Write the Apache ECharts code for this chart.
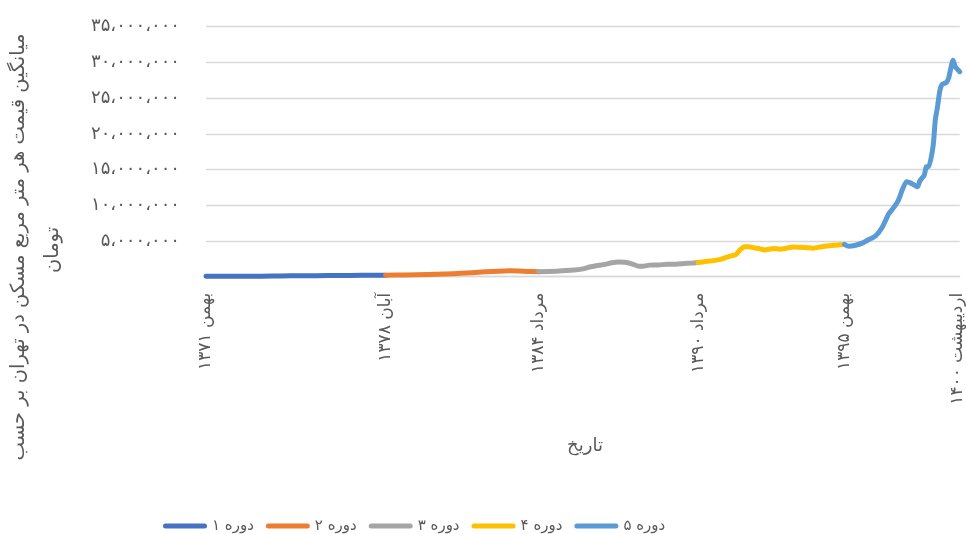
<!DOCTYPE html>
<html>
<head>
<meta charset="utf-8">
<script src="https://cdn.jsdelivr.net/npm/echarts@6/dist/echarts.min.js"></script>
<style>
html,body{margin:0;padding:0;background:#fff;}
#c{width:966px;height:534px;}
</style>
</head>
<body>
<div id="c"></div>
<script>
// X positions are month indices counted from بهمن ۱۳۷۱ (index 0)
const tickMonths = [0, 81, 150, 222, 288, 339];
const tickLabels = ['بهمن ۱۳۷۱', 'آبان ۱۳۷۸', 'مرداد ۱۳۸۴', 'مرداد ۱۳۹۰', 'بهمن ۱۳۹۵', 'اردیبهشت ۱۴۰۰'];
const seriesNames = ['دوره ۱', 'دوره ۲', 'دوره ۳', 'دوره ۴', 'دوره ۵'];
const seriesColors = ['#4472C4', '#ED7D31', '#A5A5A5', '#FFC000', '#5B9BD5'];

const p1Months = [0, 10, 20, 30, 38, 45, 55, 65, 75, 81];
const p1Values = [50000, 60000, 70000, 85000, 120000, 140000, 160000, 180000, 200000, 210000];

const p2Months = [81, 90, 100, 108, 115, 120, 126, 132, 137, 141, 145, 150];
const p2Values = [210000, 250000, 300000, 380000, 470000, 560000, 680000, 780000, 820000, 800000, 740000, 690000];

const p3Months = [150, 158, 166, 170, 173, 176, 180, 183, 186, 189, 192, 195, 197, 200, 204, 208, 212, 216, 219, 222];
const p3Values = [690000, 780000, 930000, 1100000, 1350000, 1530000, 1720000, 1950000, 2060000, 2030000, 1800000, 1480000, 1450000, 1620000, 1650000, 1730000, 1760000, 1850000, 1900000, 1980000];

const p4Months = [222, 226, 229, 232, 236, 239, 241, 243, 245, 247, 250, 252, 256, 259, 262, 265, 270, 274, 277, 280, 285, 288];
const p4Values = [1980000, 2150000, 2250000, 2420000, 2850000, 3100000, 3800000, 4200000, 4200000, 4050000, 3900000, 3750000, 3950000, 3850000, 4000000, 4150000, 4100000, 4000000, 4150000, 4300000, 4450000, 4500000];

const p5Months = [288, 290, 293, 296, 299, 302, 305, 308, 310, 312, 313, 314, 316, 318, 321, 322, 324, 325, 326, 328, 329, 330, 331, 332, 334, 335, 337, 338, 340];
const p5Values = [4500000, 4250000, 4400000, 4700000, 5200000, 5700000, 6900000, 8800000, 9600000, 10500000, 11200000, 12100000, 13300000, 13100000, 12600000, 13400000, 14200000, 15400000, 15400000, 18300000, 22000000, 23800000, 26000000, 26900000, 27200000, 27800000, 30300000, 29400000, 28700000];

const periodMonths = [p1Months, p2Months, p3Months, p4Months, p5Months];
const periodValues = [p1Values, p2Values, p3Values, p4Values, p5Values];

const FONT = 'DejaVu Sans';
const TXT = '#595959';

function toPersian(n) {
  const d = '۰۱۲۳۴۵۶۷۸۹';
  let s = String(Math.round(n));
  s = s.replace(/\B(?=(\d{3})+(?!\d))/g, '،');
  return s.replace(/\d/g, c => d[+c]);
}

const chart = echarts.init(document.getElementById('c'), null, {renderer: 'canvas'});

const series = seriesNames.map((name, i) => ({
  name: name,
  type: 'line',
  data: periodMonths[i].map((m, j) => [m, periodValues[i][j]]),
  showSymbol: false,
  symbol: 'none',
  smooth: 0.2,
  color: seriesColors[i],
  lineStyle: {width: 5, color: seriesColors[i], cap: 'round', join: 'round'},
  emphasis: {disabled: true},
  animation: false,
  z: 2 + i
}));

chart.setOption({
  backgroundColor: '#ffffff',
  animation: false,
  textStyle: {fontFamily: FONT},
  grid: {left: 206, right: 2, top: 26.7, bottom: 257.3, containLabel: false},
  xAxis: {
    type: 'value',
    min: 0,
    max: 340,
    axisLine: {show: true, lineStyle: {color: '#D9D9D9', width: 1.3}},
    axisTick: {show: false},
    splitLine: {show: false},
    axisLabel: {
      customValues: tickMonths,
      rotate: 90,
      margin: 16,
      color: TXT,
      fontFamily: FONT,
      fontSize: 17,
      formatter: function (v) {
        const k = tickMonths.indexOf(Math.round(v));
        return k >= 0 ? tickLabels[k] : '';
      }
    }
  },
  yAxis: {
    type: 'value',
    min: 0,
    max: 35000000,
    interval: 5000000,
    axisLine: {show: false},
    axisTick: {show: false},
    splitLine: {show: true, lineStyle: {color: '#D9D9D9', width: 1.3}},
    axisLabel: {
      margin: 26,
      color: TXT,
      fontFamily: FONT,
      fontSize: 18,
      formatter: function (v) { return v === 0 ? '' : toPersian(v); }
    }
  },
  legend: {
    data: seriesNames,
    left: 158,
    top: 511,
    itemWidth: 44,
    itemHeight: 5,
    itemGap: 12,
    icon: 'path://M2.5,0 H41.5 A2.5,2.5 0 0 1 41.5,5 H2.5 A2.5,2.5 0 0 1 2.5,0 Z',
    textStyle: {color: TXT, fontFamily: FONT, fontSize: 15, lineHeight: 20},
    selectedMode: false
  },
  graphic: [
    {
      type: 'text',
      x: 585, y: 446,
      style: {text: 'تاریخ', fill: TXT, font: '18px "DejaVu Sans"', align: 'center', verticalAlign: 'middle'}
    },
    {
      type: 'text',
      x: 19, y: 247,
      rotation: Math.PI / 2,
      style: {text: 'میانگین قیمت هر متر مربع مسکن در تهران بر حسب', fill: TXT, font: '19.5px "DejaVu Sans"', align: 'center', verticalAlign: 'middle'}
    },
    {
      type: 'text',
      x: 53, y: 250,
      rotation: Math.PI / 2,
      style: {text: 'تومان', fill: TXT, font: '19.5px "DejaVu Sans"', align: 'center', verticalAlign: 'middle'}
    }
  ],
  series: series
});
</script>
</body>
</html>
